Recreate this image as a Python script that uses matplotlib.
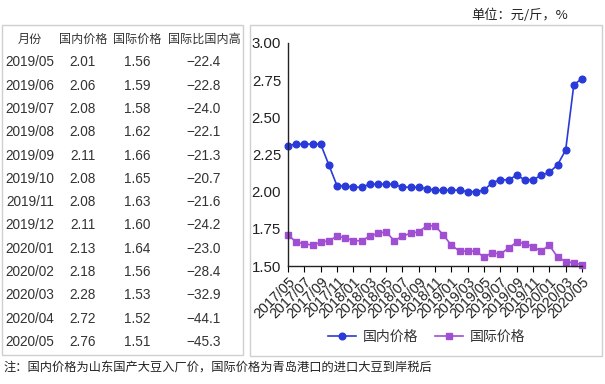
import matplotlib
matplotlib.use("Agg")
import matplotlib.pyplot as plt
from matplotlib.patches import Rectangle
import pandas as pd
import numpy as np

plt.rcParams['font.family'] = ['Noto Sans CJK SC', 'DejaVu Sans']

# ---- data ----
months = list(pd.period_range('2017-05', '2020-05', freq='M').strftime('%Y/%m'))
domestic = [2.31, 2.32, 2.32, 2.32, 2.32, 2.18, 2.04, 2.04,
            2.03, 2.03, 2.05, 2.05, 2.05, 2.05, 2.03, 2.03, 2.03, 2.02, 2.01, 2.01,
            2.01, 2.01, 2.00, 2.00, 2.01, 2.06, 2.08, 2.08, 2.11, 2.08, 2.08, 2.11,
            2.13, 2.18, 2.28, 2.72, 2.76]
international = [1.71, 1.66, 1.65, 1.64, 1.66, 1.67, 1.70, 1.69,
                 1.67, 1.67, 1.70, 1.72, 1.73, 1.67, 1.70, 1.72, 1.73, 1.77, 1.77, 1.71,
                 1.64, 1.60, 1.60, 1.60, 1.56, 1.59, 1.58, 1.62, 1.66, 1.65, 1.63, 1.60,
                 1.64, 1.56, 1.53, 1.52, 1.51]
yticks = [1.50, 1.75, 2.00, 2.25, 2.50, 2.75, 3.00]

table_header = ['月份', '国内价格', '国际价格', '国际比国内高']
table_month = ['2019/05', '2019/06', '2019/07', '2019/08', '2019/09', '2019/10', '2019/11',
               '2019/12', '2020/01', '2020/02', '2020/03', '2020/04', '2020/05']
table_dom = ['2.01', '2.06', '2.08', '2.08', '2.11', '2.08', '2.08', '2.11', '2.13', '2.18',
             '2.28', '2.72', '2.76']
table_intl = ['1.56', '1.59', '1.58', '1.62', '1.66', '1.65', '1.63', '1.60', '1.64', '1.56',
              '1.53', '1.52', '1.51']
table_diff = ['−22.4', '−22.8', '−24.0', '−22.1', '−21.3', '−20.7', '−21.6', '−24.2', '−23.0',
              '−28.4', '−32.9', '−44.1', '−45.3']

unit_text = '单位：元/斤，%'
note_text = '注：国内价格为山东国产大豆入厂价，国际价格为青岛港口的进口大豆到岸税后'

W, H = 605, 384
fig = plt.figure(figsize=(W / 100, H / 100), dpi=100)

def fx(px):
    return px / W

def fy(py):
    return 1 - py / H

# panels
for (x0, y0, x1, y1) in [(2, 25, 243, 355), (250, 25, 602, 356)]:
    fig.patches.append(Rectangle((fx(x0), fy(y1)), fx(x1 - x0), (y1 - y0) / H,
                                 transform=fig.transFigure, fill=False,
                                 edgecolor='#cfcfcf', linewidth=1.0))

# table
tcol = '#333333'
col_x = [30, 83, 137, 204]
hdr_y = 39
row_dy = 23.3
numfam = ['Liberation Sans', 'Noto Sans CJK SC']
for cx, h in zip(col_x, table_header):
    fig.text(fx(cx), fy(hdr_y), h, ha='center', va='center', fontsize=8.7, color=tcol)
for i in range(len(table_month)):
    yy = fy(hdr_y + row_dy * (i + 1))
    for cx, val in zip(col_x, [table_month[i], table_dom[i], table_intl[i], table_diff[i]]):
        fig.text(fx(cx), yy, val, ha='center', va='center', fontsize=9.8,
                 color=tcol, family=numfam)

# chart
ax = fig.add_axes([fx(288), fy(266), fx(582 - 288), (266 - 43) / H])
x = np.arange(len(months))
blue = '#2a3ad8'
purple = '#a04fd2'
ax.plot(x, domestic, color=blue, marker='o', markersize=4.8, linewidth=1.2, label='国内价格')
ax.plot(x, international, color=purple, marker='s', markersize=4.5, linewidth=1.2,
        label='国际价格')
ax.set_xlim(0, len(months) - 1)
ax.set_ylim(1.5, 3.0)
ax.set_yticks(yticks)
ax.set_yticklabels([f'{v:.2f}' for v in yticks], family=numfam, fontsize=10.8, color='#222222')
ax.tick_params(axis='y', length=0, pad=5)
ax.set_xticks(x[::2])
ax.set_xticklabels(months[::2], rotation=45, ha='right', rotation_mode='anchor',
                   family=numfam, fontsize=10.3, color='#222222')
ax.tick_params(axis='x', length=4, width=0.8, pad=2)
for s in ['top', 'right']:
    ax.spines[s].set_visible(False)
for s in ['left', 'bottom']:
    ax.spines[s].set_color('#222222')
    ax.spines[s].set_linewidth(1.0)
ax.set_facecolor('none')
for ln in ax.lines:
    ln.set_clip_on(False)

leg = fig.legend(loc='center', bbox_to_anchor=(fx(427), fy(337)), ncol=2, frameon=False,
                 fontsize=10, handlelength=2.0, columnspacing=1.2, handletextpad=0.5)
for t in leg.get_texts():
    t.set_color('#333333')

fig.text(fx(568), fy(15), unit_text, ha='right', va='center', fontsize=9.5, color='#222222')
fig.text(fx(3), fy(368), note_text, ha='left', va='center', fontsize=8.8, color='#222222')

fig.savefig('out.png', dpi=100)
